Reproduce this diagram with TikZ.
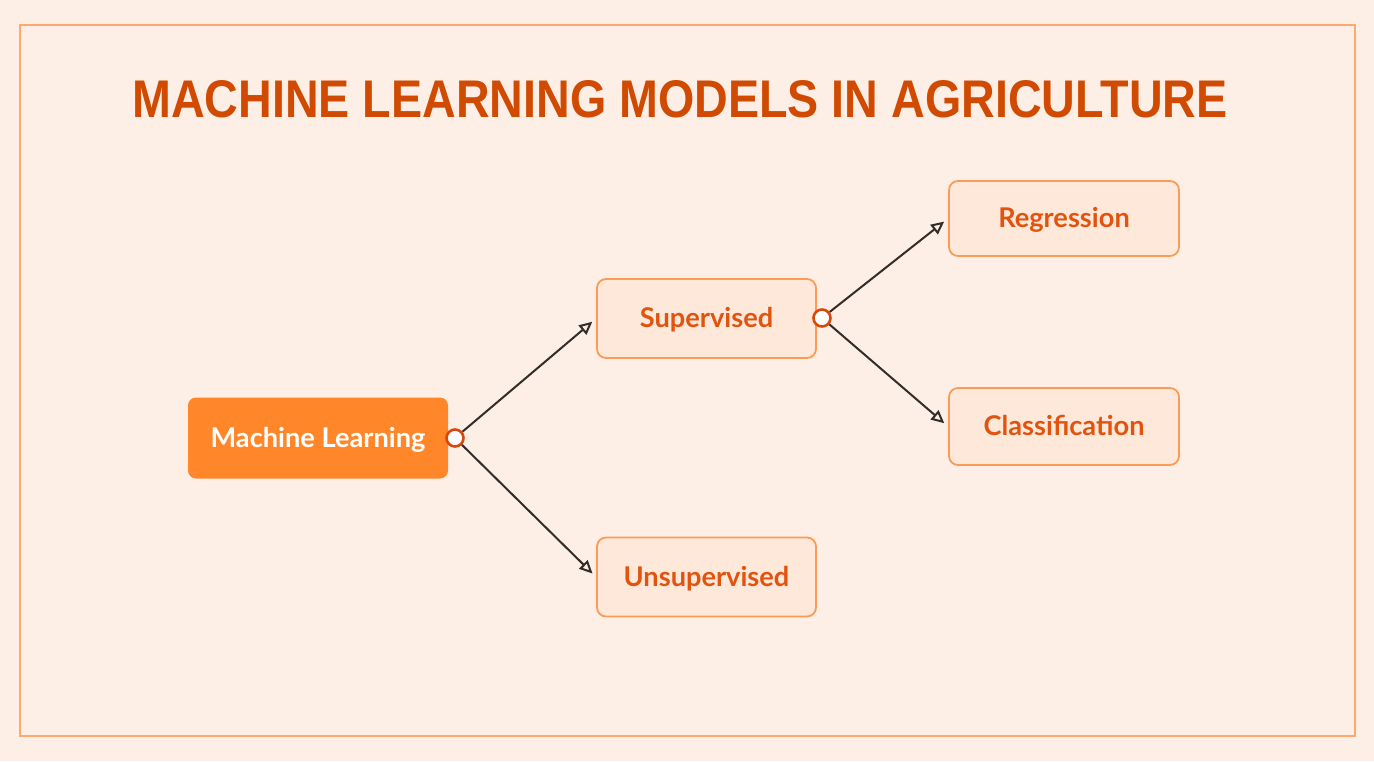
\documentclass[tikz,border=0pt]{standalone}
\usepackage{fontspec}
\usetikzlibrary{arrows.meta}
\setmainfont{Lato}
\newfontfamily\titlefont[FakeStretch=0.88]{Liberation Sans}

\definecolor{pagecolor}{RGB}{253,239,230}
\definecolor{framecolor}{RGB}{255,168,111}
\definecolor{titlecolor}{RGB}{208,74,2}
\definecolor{rootcolor}{RGB}{255,134,41}
\definecolor{boxfill}{RGB}{253,232,218}
\definecolor{boxline}{RGB}{252,155,85}
\definecolor{boxtext}{RGB}{226,84,14}
\definecolor{dotline}{RGB}{217,72,10}
\definecolor{arrowcolor}{RGB}{50,45,40}

\newlength{\du}
\setlength{\du}{0.5pt}

\tikzset{
  rootbox/.style={rectangle, rounded corners=8\du, fill=rootcolor, draw=none,
    minimum width=260\du, minimum height=81\du, text=white,
    text height=10pt, text depth=1pt,
    font=\fontsize{13.6}{16}\selectfont\bfseries},
  leafbox/.style={rectangle, rounded corners=9\du, fill=boxfill, draw=boxline,
    line width=1.8\du, minimum height=79\du, text=boxtext,
    text height=10pt, text depth=1pt,
    font=\fontsize{13.6}{16}\selectfont\bfseries},
  joint/.style={circle, draw=dotline, fill=white, line width=2.6\du,
    inner sep=0pt, minimum size=17\du},
  link/.style={draw=arrowcolor, line width=2\du,
    -{Triangle[open, length=6.5pt, width=6pt]}, shorten >=5\du}
}

\begin{document}
\begin{tikzpicture}
\pgftransformyscale{-1.000000}
% page and frame
\fill[pagecolor] (0\du,0\du) rectangle (1374\du,761\du);
\useasboundingbox (0\du,0\du) rectangle (1374\du,761\du);
\draw[framecolor, line width=2\du] (20\du,25\du) rectangle (1355\du,736\du);
% title
\node[text=titlecolor, font=\titlefont\fontsize{26.5}{30}\selectfont\bfseries] (title) at (680\du,99\du) {MACHINE LEARNING MODELS IN AGRICULTURE};
% boxes
\node[rootbox] (ml) at (318\du,438\du) {Machine Learning};
\node[leafbox, minimum width=219\du] (sup) at (706.5\du,318.5\du) {Supervised};
\node[leafbox, minimum width=219\du] (uns) at (706.5\du,577\du) {Unsupervised};
\node[leafbox, minimum width=230\du, minimum height=75\du] (reg) at (1064\du,218.5\du) {Regression};
\node[leafbox, minimum width=230\du, minimum height=77\du] (cls) at (1064\du,426.5\du) {Classification};
% joints
\node[joint] (mldot) at (455\du,438\du) {};
\node[joint] (supdot) at (822\du,318\du) {};
% links
\draw[link] (mldot) -- (sup.west);
\draw[link] (mldot) -- (uns.west);
\draw[link] (supdot) -- (reg.west);
\draw[link] (supdot) -- (cls.west);
\end{tikzpicture}
\end{document}
